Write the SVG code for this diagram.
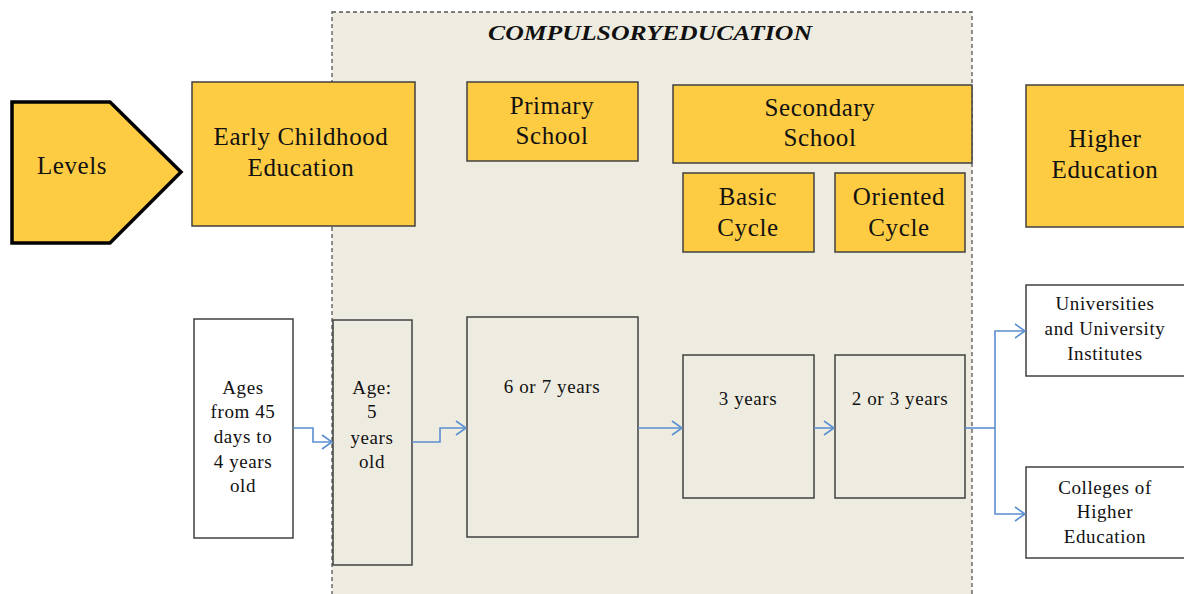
<svg xmlns="http://www.w3.org/2000/svg" width="1184" height="594" viewBox="0 0 1184 594">
<style>
.bg{fill:#ffffff}
.zone{fill:#EEECE1;stroke:#555;stroke-width:1.3;stroke-dasharray:4,3}
.y{fill:#FECC43;stroke:#404040;stroke-width:1.5}
.w{fill:#ffffff;stroke:#404040;stroke-width:1.5}
.g{fill:#EEECE1;stroke:#404040;stroke-width:1.5}
.lv{fill:#FECC43;stroke:#000;stroke-width:3.5;stroke-linejoin:miter}
.t{font-family:"Liberation Serif","Times New Roman",serif;font-size:25px;fill:#111;text-anchor:middle;letter-spacing:0.6px}
.s{font-family:"Liberation Serif","Times New Roman",serif;font-size:19px;fill:#111;text-anchor:middle;letter-spacing:0.6px}
.title{font-family:"Liberation Serif","Times New Roman",serif;font-size:22px;font-weight:bold;font-style:italic;fill:#111;text-anchor:middle}
.c{fill:none;stroke:#5B8FD0;stroke-width:1.6}
</style>
<defs>
<marker id="arr" viewBox="0 0 12 16" refX="11" refY="8" markerWidth="12" markerHeight="16" markerUnits="userSpaceOnUse" orient="auto">
<path d="M1,1 L11,8 L1,15" fill="none" stroke="#5B8FD0" stroke-width="1.6"/>
</marker>
</defs>
<rect class="bg" x="0" y="0" width="1184" height="594"/>
<g id="compulsory">
<rect class="zone" x="332" y="12" width="640" height="600"/>
<text class="title" x="650" y="40" textLength="324" lengthAdjust="spacingAndGlyphs">COMPULSORYEDUCATION</text>
</g>
<g id="levels">
<polygon class="lv" points="12,102 110,102 181,172 110,243 12,243"/>
<text class="t" x="72" y="174">Levels</text>
</g>
<g id="early">
<rect class="y" x="192" y="82" width="223" height="144"/>
<text class="t" x="301" y="145">Early Childhood</text>
<text class="t" x="301" y="176">Education</text>
</g>
<g id="primary">
<rect class="y" x="467" y="82" width="171" height="79"/>
<text class="t" x="552" y="114">Primary</text>
<text class="t" x="552" y="144">School</text>
</g>
<g id="secondary">
<rect class="y" x="673" y="85" width="299" height="78"/>
<text class="t" x="820" y="116">Secondary</text>
<text class="t" x="820" y="146">School</text>
</g>
<g id="basic">
<rect class="y" x="683" y="173" width="131" height="79"/>
<text class="t" x="748" y="205">Basic</text>
<text class="t" x="748" y="236">Cycle</text>
</g>
<g id="oriented">
<rect class="y" x="835" y="173" width="130" height="79"/>
<text class="t" x="899" y="205">Oriented</text>
<text class="t" x="899" y="236">Cycle</text>
</g>
<g id="higher">
<rect class="y" x="1026" y="85" width="170" height="142"/>
<text class="t" x="1105" y="147">Higher</text>
<text class="t" x="1105" y="178">Education</text>
</g>
<g id="ages">
<rect class="w" x="194" y="319" width="99" height="219"/>
<text class="s" x="243" y="394">Ages</text>
<text class="s" x="243" y="418">from 45</text>
<text class="s" x="243" y="443">days to</text>
<text class="s" x="243" y="468">4 years</text>
<text class="s" x="243" y="492">old</text>
</g>
<g id="age5">
<rect class="g" x="333" y="320" width="79" height="245"/>
<text class="s" x="372" y="394">Age:</text>
<text class="s" x="372" y="418">5</text>
<text class="s" x="372" y="444">years</text>
<text class="s" x="372" y="468">old</text>
</g>
<g id="prim-years">
<rect class="g" x="467" y="317" width="171" height="220"/>
<text class="s" x="552" y="393">6 or 7 years</text>
</g>
<g id="basic-years">
<rect class="g" x="683" y="355" width="131" height="143"/>
<text class="s" x="748" y="405">3 years</text>
</g>
<g id="oriented-years">
<rect class="g" x="835" y="355" width="130" height="143"/>
<text class="s" x="900" y="405">2 or 3 years</text>
</g>
<g id="universities">
<rect class="w" x="1026" y="285" width="170" height="91"/>
<text class="s" x="1105" y="310">Universities</text>
<text class="s" x="1105" y="335">and University</text>
<text class="s" x="1105" y="360">Institutes</text>
</g>
<g id="colleges">
<rect class="w" x="1026" y="467" width="170" height="91"/>
<text class="s" x="1105" y="494">Colleges of</text>
<text class="s" x="1105" y="518">Higher</text>
<text class="s" x="1105" y="543">Education</text>
</g>
<g id="connectors">
<polyline class="c" points="293,428 313,428 313,442 332,442" marker-end="url(#arr)"/>
<polyline class="c" points="412,442 440,442 440,428 466,428" marker-end="url(#arr)"/>
<polyline class="c" points="638,428 682,428" marker-end="url(#arr)"/>
<polyline class="c" points="814,428 834,428" marker-end="url(#arr)"/>
<polyline class="c" points="965,428 995,428"/>
<polyline class="c" points="995,428 995,331 1025,331" marker-end="url(#arr)"/>
<polyline class="c" points="995,428 995,514 1025,514" marker-end="url(#arr)"/>
</g>
</svg>
